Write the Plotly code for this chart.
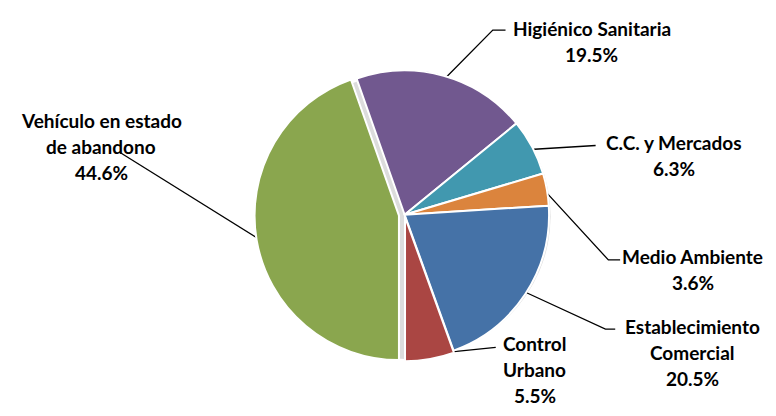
import math
import plotly.graph_objects as go

# ── data ──────────────────────────────────────────────────────────────
LABELS = ['Vehículo en estado de abandono', 'Higiénico Sanitaria', 'C.C. y Mercados',
          'Medio Ambiente', 'Establecimiento Comercial', 'Control Urbano']
VALUES = [44.6, 19.5, 6.3, 3.6, 20.5, 5.5]
TEXT_LINES = [['Vehículo en estado', 'de abandono'], ['Higiénico Sanitaria'],
              ['C.C. y Mercados'], ['Medio Ambiente'],
              ['Establecimiento', 'Comercial'], ['Control', 'Urbano']]
COLORS = ['#8AA64E', '#71588F', '#4198AF', '#DB843D', '#4572A7', '#AA4643']
PULLS = [0.04, 0.0, 0.0, 0.0, 0.0, 0.015]

# ── layout (pixels) ───────────────────────────────────────────────────
W, H = 776, 416
CX, CY, R = 405, 215, 145
ROTATION = 180
R_FIX = 145 / 140          # plotly draws the pie a little smaller than its box
# label centre (x, first line y), elbow point, end of leader
LABEL_POS = [(95, 117), (596, 21), (680, 140), (699, 258), (699, 331), (538, 349)]
ELBOW = [(114, 150), (495, 23), (600, 143), (613, 262), (610, 334), (498, 353)]
LEAD_END = [(114, 150), (508, 23), (600, 143), (625, 262), (620, 334), (498, 353)]
LINE_GAP = 27
FONT = dict(family='Lato, Calibri, sans-serif', size=19, color='black')

max_pull = max(PULLS)
half = R * (1 + max_pull) * R_FIX
dom_x = [(CX - half) / W, (CX + half) / W]
dom_y = [1 - (CY + half) / H, 1 - (CY - half) / H]

fig = go.Figure()

# leader lines, attached at each slice's mid angle
total = sum(VALUES)
angle = ROTATION
for i, v in enumerate(VALUES):
    sweep = v / total * 360
    mid = math.radians(angle + sweep / 2)
    angle += sweep
    rr = R * (1 + PULLS[i])
    px = CX + rr * math.sin(mid)
    py = CY - rr * math.cos(mid)
    fig.add_trace(go.Scatter(
        x=[px, ELBOW[i][0], LEAD_END[i][0]],
        y=[py, ELBOW[i][1], LEAD_END[i][1]],
        mode='lines', line=dict(color='black', width=1.3),
        hoverinfo='skip', showlegend=False,
    ))
    lines = TEXT_LINES[i] + [f'{v:.1f}%']
    lx, ly = LABEL_POS[i]
    for k, t in enumerate(lines):
        fig.add_annotation(x=lx, y=ly + k * LINE_GAP, text=f'<b>{t}</b>',
                           showarrow=False, xref='x', yref='y',
                           xanchor='center', yanchor='middle', font=FONT)

fig.add_trace(go.Pie(
    labels=LABELS, values=VALUES,
    sort=False, direction='clockwise', rotation=ROTATION,
    pull=PULLS,
    marker=dict(colors=COLORS, line=dict(color='white', width=2)),
    textinfo='none', hoverinfo='label+percent',
    domain=dict(x=dom_x, y=dom_y),
    showlegend=False,
))

# soft shadow behind the pie
fig.add_shape(type='circle', xref='x', yref='y', layer='below',
              x0=CX - R - 3, x1=CX + R + 4, y0=CY - R - 2, y1=CY + R + 5,
              fillcolor='#dcdcdc', line=dict(width=0))

fig.update_layout(
    margin=dict(l=0, r=0, t=0, b=0),
    paper_bgcolor='white', plot_bgcolor='white',
    xaxis=dict(range=[0, W], visible=False, fixedrange=True),
    yaxis=dict(range=[H, 0], visible=False, fixedrange=True),
    showlegend=False,
)

fig.write_html('out.html')
